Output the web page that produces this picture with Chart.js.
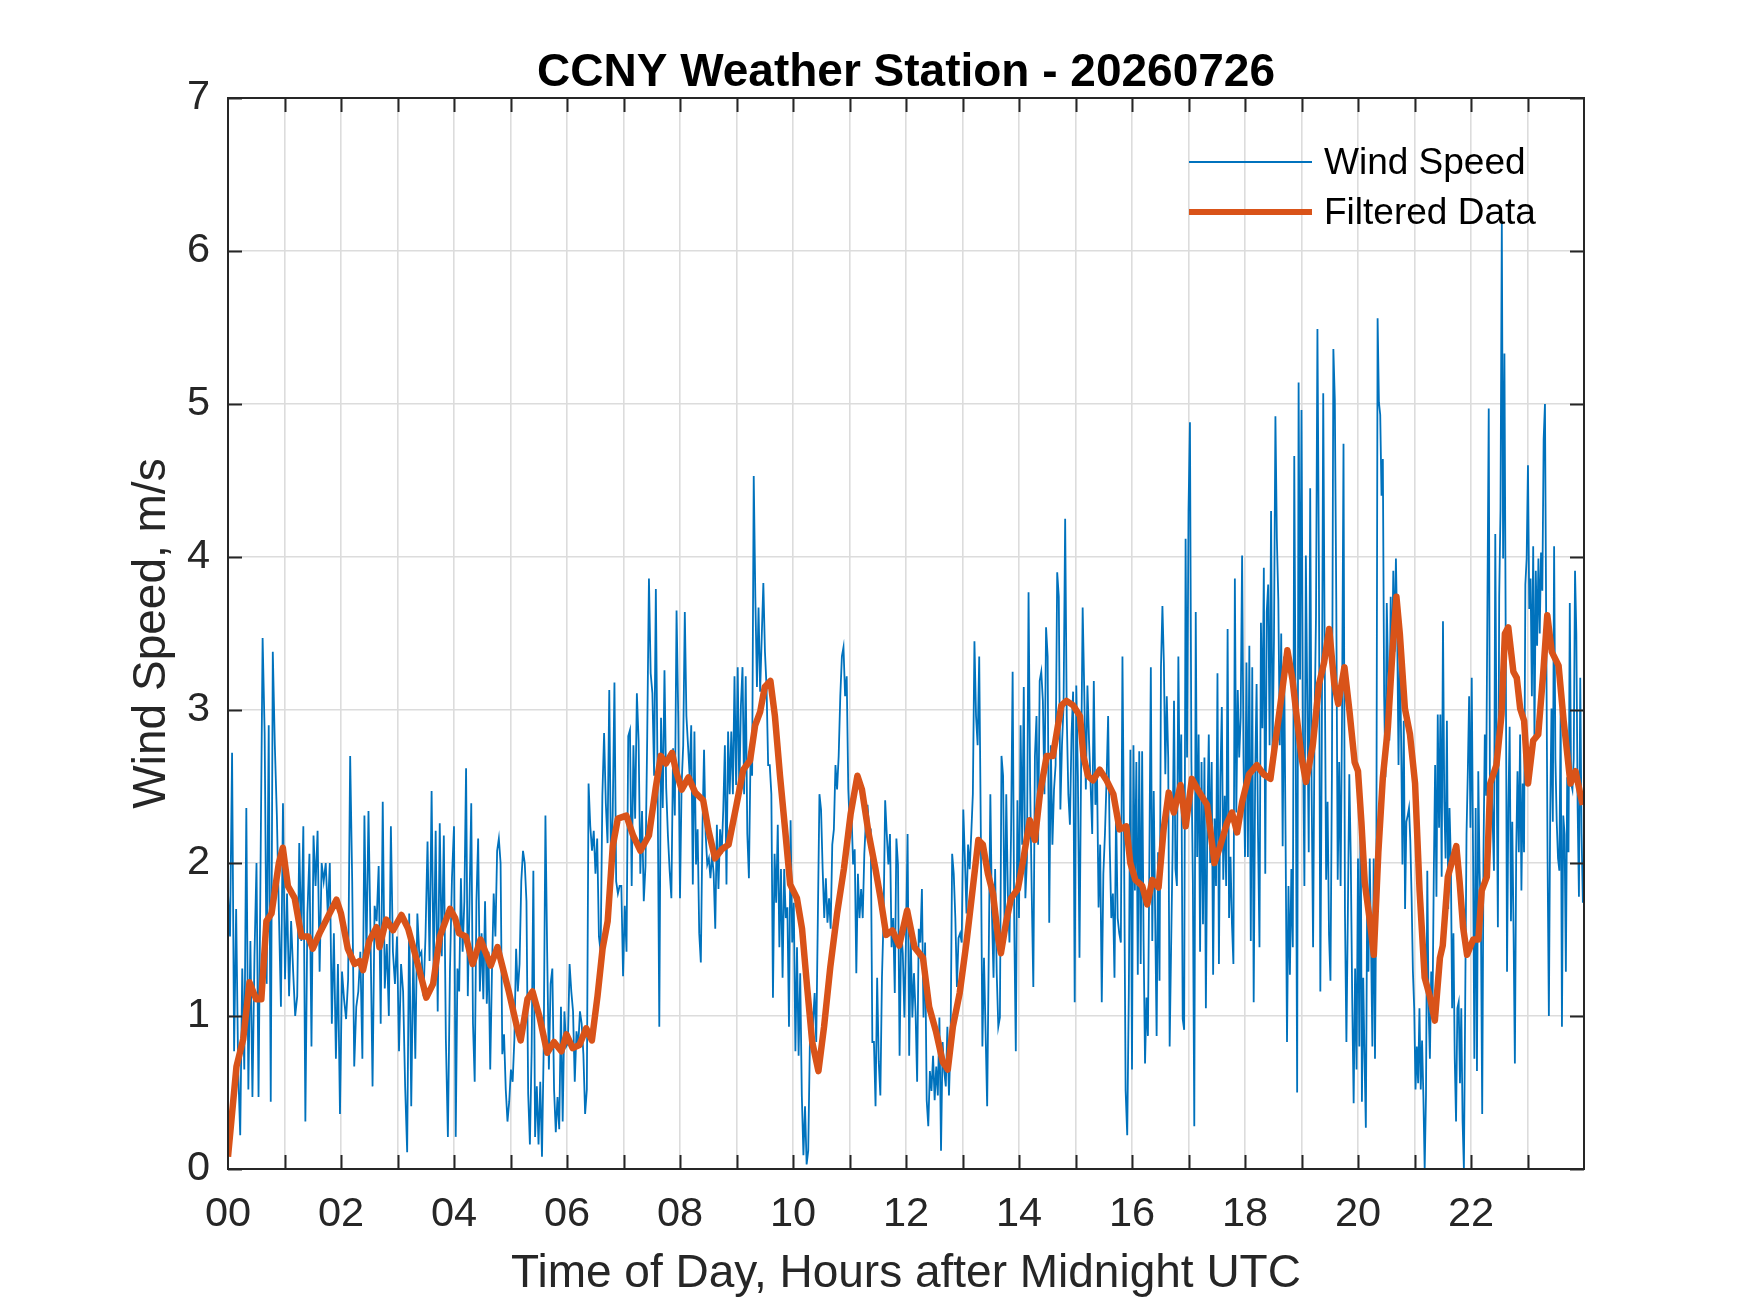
<!DOCTYPE html>
<html>
<head>
<meta charset="utf-8">
<script src="https://cdn.jsdelivr.net/npm/chart.js@4.4.0/dist/chart.umd.min.js"></script>
<style>
  body { margin: 0; background: #fff; }
  canvas { display: block; }
</style>
</head>
<body>
<canvas id="myChart" width="1750" height="1313"></canvas>
<script>
// wind speed readings (m/s) in 4-hour blocks
let wind00to04=[1.8,1.52,2.72,0.77,1.7,0.65,0.22,1.31,0.65,2.36,0.52,1.49,0.47,1.39,2.0,0.47,2.0,3.47,2.85,1.21,2.9,0.44,3.38,2.77,2.31,1.67,1.06,2.39,1.24,1.8,1.13,1.62,1.29,1.0,1.13,2.13,1.49,2.24,0.31,1.67,2.06,0.8,2.18,1.85,2.21,1.29,2.0,1.88,2.0,1.67,2.0,0.95,1.54,0.72,1.34,0.36,1.29,1.11,0.98,1.24,2.7,1.88,0.67,1.06,1.16,1.42,0.72,2.31,1.39,2.34,1.52,0.54,1.72,1.62,1.98,0.95,2.4,1.18,1.47,1.0,2.24,1.42,1.21,1.52,0.77,1.34,1.16,0.54,0.11,1.67,0.41,1.42,0.72,1.67,1.39,1.42,1.13,1.52,2.14,1.36,2.47,1.26,2.21,1.03,2.26,1.39,2.18,0.85,0.21,1.29,1.9];
let wind04to08=[2.24,0.21,1.31,1.16,1.9,1.42,1.75,2.62,1.13,1.75,2.39,0.95,0.57,1.75,2.16,1.16,1.54,1.11,1.75,1.08,1.42,0.65,1.29,1.8,1.52,2.08,2.16,2.0,0.75,0.88,0.52,0.31,0.44,0.65,0.57,0.85,1.44,1.16,1.34,1.88,2.08,2.0,1.75,0.49,0.16,0.77,1.95,0.21,0.54,0.16,0.57,0.08,0.8,2.31,1.42,0.65,1.21,1.31,0.52,0.24,0.47,0.26,1.06,0.31,1.03,0.8,0.82,1.34,1.16,1.03,0.57,0.9,0.8,1.03,0.95,0.75,0.36,0.52,2.52,2.24,2.08,2.21,1.93,2.16,1.52,1.42,2.44,2.85,2.39,2.13,3.13,1.98,2.31,3.18,1.88,1.8,1.85,1.85,1.26,1.72,1.42,2.83,2.87,1.85,2.77,2.29,3.11,2.8,1.93,2.34,1.75,1.98,2.83,3.86,3.24,3.11,2.57,3.79,2.57,0.93,2.95,2.36,3.26,2.49,2.18,1.95,1.77,2.75,2.31,3.65,2.95];
let wind08to12=[1.77,2.51,2.77,3.64,2.96,2.77,2.57,2.9,1.86,2.86,1.99,2.22,1.54,1.35,2.22,2.74,2.19,1.99,2.03,1.9,2.06,1.93,1.57,2.25,1.83,2.22,2.06,2.35,2.77,1.86,2.86,2.45,2.86,2.45,3.22,2.51,3.28,2.45,3.03,3.28,2.45,3.22,2.19,1.9,2.7,2.57,4.53,3.74,3.15,3.67,3.12,3.48,3.83,3.38,3.15,2.64,2.64,2.45,1.12,2.06,1.74,2.25,1.45,1.96,1.25,1.96,1.64,1.71,0.93,2.28,1.48,1.74,0.77,1.45,0.74,1.28,0.48,0.09,0.41,0.03,0.12,0.8,1.03,0.96,1.15,0.83,1.64,2.45,2.35,1.96,1.64,1.9,1.61,1.77,1.57,2.12,2.22,2.64,2.48,2.7,3.09,3.35,3.41,3.09,3.22,2.48,2.22,2.32,1.99,2.09,1.28,1.93,1.64,1.83,1.64,2.06,2.28,2.38,2.22,2.22,0.83,0.83,0.41,1.25,0.7,0.48,1.25,1.64,2.41,2.19,1.99,2.19,1.45,1.64,1.15,2.16,1.99,0.74,1.57,1.41,0.99];
let wind12to16=[1.51,2.19,0.74,1.51,0.99,1.28,1.03,0.57,1.57,1.48,1.83,0.99,1.48,0.45,0.28,0.64,0.51,0.74,0.45,0.67,0.48,0.99,0.12,0.83,0.64,0.54,0.93,0.48,0.83,2.06,1.93,1.64,1.19,1.51,1.54,1.48,2.35,2.03,1.67,2.12,1.96,2.19,2.45,3.45,2.96,2.77,3.35,2.22,0.8,1.38,0.9,0.41,1.41,2.45,1.67,1.25,1.96,1.28,0.93,0.99,2.7,2.57,1.51,2.45,1.8,1.48,2.19,3.25,1.61,0.77,2.41,1.64,2.9,2.12,3.15,1.77,2.03,3.77,2.51,1.8,1.19,2.7,2.96,2.12,3.19,3.25,3.06,2.45,3.54,3.35,1.61,2.77,2.12,2.48,2.64,3.9,3.74,2.35,2.77,3.03,4.25,2.96,2.45,2.25,2.84,3.12,1.09,3.16,2.57,1.38,2.61,3.67,3.12,2.48,3.16,2.8,2.51,2.19,3.19,2.38,2.61,1.71,2.12,1.09,1.93,2.19,2.54,2.96,2.12,1.64,1.8,1.25,2.35,1.64,1.54,1.48,3.35,2.12,0.51,0.22,1.15,2.74];
let wind16to20=[0.65,2.77,1.82,2.66,1.27,2.73,1.34,2.73,1.49,0.69,1.12,0.87,2.04,3.28,1.49,2.47,1.64,0.87,2.07,1.23,3.28,3.68,3.31,2.58,3.09,2.69,0.8,1.45,2.07,3.06,1.96,1.85,3.35,2.4,2.84,0.98,0.91,4.12,2.69,4.3,4.88,2.66,1.89,0.28,3.64,2.04,2.84,1.42,2.66,1.6,2.69,1.05,2.26,2.84,2.0,2.66,1.27,2.29,1.85,3.24,1.34,2.55,3.02,1.89,2.44,1.85,3.53,1.64,2.04,1.6,1.34,3.86,2.33,3.13,2.69,2.95,4.01,2.66,2.04,3.31,2.04,3.42,1.49,3.28,1.09,2.55,3.17,2.18,1.45,3.57,2.88,3.93,1.93,3.64,3.82,2.77,4.3,2.69,3.46,4.92,4.12,3.72,2.77,3.5,2.11,3.35,2.18,0.83,1.85,1.27,1.96,1.45,4.66,2.84,0.5,5.14,3.2,4.96,2.88,1.85,4.01,3.06,2.07,4.45,2.47,1.45,2.91,3.61,5.49,3.97,1.16,2.77,5.07,3.39,1.89,2.4,1.53,1.23,2.58,5.36,5.03,3.72,1.89,2.66,1.85,2.99,4.74,1.67,0.83,1.67,2.58,2.04,1.12,0.43,1.31,0.65];
let wind20to24=[2.03,0.8,2.44,0.44,1.25,0.72,0.27,1.74,1.29,2.03,1.46,0.8,2.03,0.72,1.87,5.56,5.01,4.93,4.4,4.64,3.09,2.56,3.7,3.25,2.8,3.74,3.25,3.91,3.38,3.99,3.5,2.64,3.42,2.8,1.99,2.93,1.7,2.27,2.31,2.36,2.15,1.78,1.29,1.05,0.52,0.8,0.56,1.05,0.52,0.84,0.48,0.0,0.48,1.95,1.05,0.72,1.29,1.05,1.95,2.64,1.78,2.97,2.23,2.97,1.91,3.58,2.4,2.03,2.93,1.7,2.36,2.03,1.05,1.54,0.72,0.31,1.05,1.09,0.56,1.05,0.31,0.0,1.09,2.19,2.6,3.09,2.23,3.21,2.07,0.72,2.36,0.64,2.6,1.95,1.66,0.36,2.07,2.84,2.44,3.7,4.97,2.27,2.56,2.27,1.95,4.15,2.68,1.58,3.74,4.31,6.19,3.99,5.33,3.46,1.29,2.36,2.89,1.62,2.27,1.54,0.69,2.07,2.6,2.07,2.84,1.82,2.52,2.07,3.82,3.99,4.6,3.66,3.86,3.09,4.07,2.8,3.91,3.42,3.99,3.5,4.03,3.78,4.77,5.0,3.5,2.03,1.0,2.31,3.01,2.27,4.07,2.68,2.27,2.03,1.95,3.01,0.93,2.31,2.19,1.29,2.56,2.07,3.7,2.52,2.48,2.68,3.91,3.5,2.36,1.78,3.21,2.19,1.74];
let windBlocks=[wind00to04,wind04to08,wind08to12,wind12to16,wind16to20,wind20to24];
let blockHours=4;
let lastHour=23.98;

// filtered curve: hours and values
let filtHours=[0,0.15,0.27,0.38,0.5,0.59,0.68,0.77,0.9,0.97,1.06,1.18,1.3,1.42,1.5,1.62,1.77,1.92,2.0,2.12,2.24,2.33,2.39,2.5,2.63,2.68,2.8,2.92,3.07,3.19,3.3,3.45,3.51,3.63,3.75,3.93,4.02,4.09,4.21,4.33,4.47,4.65,4.77,4.97,5.1,5.18,5.3,5.39,5.51,5.65,5.77,5.9,5.99,6.1,6.22,6.34,6.44,6.54,6.63,6.72,6.81,6.9,7.05,7.17,7.3,7.45,7.57,7.66,7.75,7.86,7.93,8.03,8.15,8.27,8.41,8.5,8.62,8.74,8.86,9.0,9.12,9.24,9.33,9.42,9.5,9.6,9.68,9.77,9.86,9.95,10.07,10.16,10.25,10.34,10.45,10.55,10.66,10.78,10.9,11.02,11.14,11.22,11.34,11.46,11.55,11.65,11.76,11.88,12.02,12.15,12.3,12.41,12.53,12.65,12.74,12.83,12.95,13.07,13.18,13.28,13.36,13.45,13.54,13.63,13.68,13.77,13.86,13.98,14.07,14.19,14.28,14.37,14.49,14.6,14.69,14.75,14.84,14.96,15.08,15.14,15.22,15.31,15.43,15.55,15.67,15.78,15.9,15.97,16.06,16.18,16.27,16.36,16.47,16.56,16.65,16.74,16.86,16.95,17.06,17.18,17.33,17.46,17.56,17.68,17.77,17.86,17.95,18.07,18.21,18.33,18.45,18.57,18.66,18.75,18.84,18.93,19.0,19.08,19.2,19.31,19.4,19.49,19.58,19.65,19.76,19.85,19.94,20.0,20.06,20.12,20.21,20.28,20.36,20.44,20.53,20.61,20.68,20.74,20.83,20.92,21.01,21.09,21.18,21.27,21.36,21.45,21.5,21.59,21.68,21.74,21.8,21.86,21.93,22.04,22.13,22.19,22.28,22.34,22.45,22.54,22.6,22.66,22.75,22.81,22.87,22.94,23.01,23.1,23.19,23.28,23.35,23.43,23.55,23.64,23.76,23.85,23.94,23.98];
let filtValues=[0.08,0.67,0.85,1.22,1.11,1.11,1.62,1.67,2.0,2.1,1.85,1.77,1.52,1.52,1.44,1.54,1.65,1.76,1.67,1.44,1.34,1.36,1.3,1.49,1.58,1.45,1.63,1.56,1.66,1.57,1.42,1.21,1.12,1.21,1.52,1.7,1.64,1.54,1.52,1.34,1.5,1.33,1.45,1.16,0.95,0.84,1.11,1.16,1.0,0.76,0.83,0.77,0.88,0.79,0.81,0.92,0.84,1.13,1.44,1.62,2.11,2.29,2.31,2.18,2.08,2.18,2.49,2.7,2.65,2.72,2.6,2.48,2.56,2.46,2.41,2.22,2.03,2.09,2.12,2.38,2.61,2.67,2.9,2.99,3.15,3.19,2.96,2.57,2.22,1.86,1.77,1.57,1.19,0.83,0.64,0.93,1.32,1.67,1.96,2.32,2.57,2.48,2.19,1.96,1.77,1.53,1.56,1.46,1.69,1.45,1.38,1.06,0.9,0.7,0.65,0.93,1.15,1.48,1.83,2.15,2.12,1.93,1.8,1.51,1.41,1.61,1.77,1.83,2.01,2.28,2.15,2.45,2.7,2.7,2.9,3.03,3.06,3.03,2.96,2.7,2.57,2.54,2.61,2.54,2.45,2.22,2.24,2.0,1.89,1.85,1.73,1.89,1.84,2.22,2.46,2.33,2.51,2.24,2.55,2.47,2.38,2.0,2.11,2.26,2.33,2.2,2.4,2.58,2.64,2.58,2.55,2.88,3.13,3.39,3.2,2.91,2.69,2.53,2.77,3.17,3.31,3.53,3.17,3.04,3.28,2.99,2.66,2.6,2.27,1.87,1.62,1.4,2.07,2.56,2.89,3.38,3.74,3.5,3.01,2.84,2.52,1.82,1.25,1.13,0.97,1.38,1.46,1.91,2.03,2.11,1.87,1.58,1.4,1.5,1.5,1.82,1.91,2.52,2.64,2.97,3.5,3.54,3.25,3.21,3.01,2.93,2.52,2.8,2.84,3.25,3.62,3.38,3.29,2.93,2.52,2.6,2.44,2.38];

let xTickHours=[0,2,4,6,8,10,12,14,16,18,20,22];
let yTicks=[0,1,2,3,4,5,6,7];

let windPoints=[];
windBlocks.forEach((block,b)=>{
    let span=(b==windBlocks.length-1)?(lastHour-b*blockHours):blockHours;
    block.forEach((v,i)=>{
        windPoints.push({x: b*blockHours+span*i/(block.length-(b==windBlocks.length-1?1:0)), y: v});
    });
});
let filtPoints=filtHours.map((h,i)=>({x: h, y: filtValues[i]}));

const blue='#0072BD';
const orange='#D95319';
const axisColor='#262626';
const fontFamily='"Liberation Sans", Arial, Helvetica, sans-serif';

// MATLAB style box with inward ticks on all four sides
const boxPlugin={
    id: 'boxPlugin',
    afterDatasetsDraw(chart){
        const {ctx, chartArea: a, scales: {x, y}}=chart;
        const len=14;
        ctx.save();
        ctx.strokeStyle=axisColor;
        ctx.lineWidth=2;
        ctx.beginPath();
        for(let h=1; h<24; h++){
            let px=Math.round(x.getPixelForValue(h))+0.5;
            ctx.moveTo(px,a.bottom); ctx.lineTo(px,a.bottom-len);
            ctx.moveTo(px,a.top); ctx.lineTo(px,a.top+len);
        }
        yTicks.forEach((t)=>{
            let py=Math.round(y.getPixelForValue(t))+0.5;
            ctx.moveTo(a.left,py); ctx.lineTo(a.left+len,py);
            ctx.moveTo(a.right,py); ctx.lineTo(a.right-len,py);
        });
        ctx.stroke();
        ctx.strokeRect(a.left,a.top,a.right-a.left,a.bottom-a.top);
        ctx.restore();
    }
};

// legend without box, top right inside the axes
const legendPlugin={
    id: 'legendPlugin',
    afterDraw(chart){
        const ctx=chart.ctx;
        const rows=[
            {label: 'Wind Speed', color: blue, width: 2, y: 162},
            {label: 'Filtered Data', color: orange, width: 6, y: 212}
        ];
        ctx.save();
        ctx.font='37px '+fontFamily;
        ctx.textBaseline='middle';
        ctx.fillStyle='#000';
        rows.forEach((r)=>{
            ctx.strokeStyle=r.color;
            ctx.lineWidth=r.width;
            ctx.beginPath();
            ctx.moveTo(1189,r.y); ctx.lineTo(1312,r.y);
            ctx.stroke();
            ctx.fillText(r.label,1324,r.y+2);
        });
        ctx.restore();
    }
};

const ctx=document.getElementById('myChart').getContext('2d');
const myChart=new Chart(ctx,{
    type: 'line',
    data: {
        datasets: [{
            label: 'Wind Speed',
            data: windPoints,
            borderColor: blue,
            borderWidth: 1.8,
            pointRadius: 0,
            tension: 0,
            fill: false,
            order: 1
        },{
            label: 'Filtered Data',
            data: filtPoints,
            borderColor: orange,
            borderWidth: 6.5,
            pointRadius: 0,
            tension: 0,
            fill: false,
            borderJoinStyle: 'round',
            order: 0
        }]
    },
    options: {
        responsive: false,
        animation: false,
        devicePixelRatio: 1,
        layout: {padding: {left: 0, right: 166, top: 0, bottom: 0}},
        plugins: {
            legend: {display: false},
            tooltip: {enabled: false},
            title: {
                display: true,
                text: 'CCNY Weather Station - 20260726',
                color: '#000',
                fullSize: false,
                font: {family: fontFamily, size: 46, weight: 'bold', lineHeight: 1},
                padding: {top: 50, bottom: 2}
            }
        },
        scales: {
            x: {
                type: 'linear',
                min: 0,
                max: 24,
                afterFit: (scale)=>{ scale.height=144; },
                afterBuildTicks: (scale)=>{
                    let t=[];
                    for(let h=0; h<=24; h++) t.push({value: h});
                    scale.ticks=t;
                },
                ticks: {
                    autoSkip: false,
                    maxRotation: 0,
                    padding: 21,
                    color: axisColor,
                    font: {family: fontFamily, size: 41.5, lineHeight: 1.2},
                    callback: (v)=> xTickHours.includes(v) ? String(v).padStart(2,'0') : ''
                },
                grid: {color: '#dcdcdc', lineWidth: 1.6, drawTicks: false},
                border: {display: false},
                title: {
                    display: true,
                    text: 'Time of Day, Hours after Midnight UTC',
                    color: axisColor,
                    font: {family: fontFamily, size: 46, lineHeight: 1.2},
                    padding: {top: 0, bottom: 11}
                }
            },
            y: {
                type: 'linear',
                min: 0,
                max: 7,
                afterFit: (scale)=>{ scale.width=228; },
                ticks: {
                    stepSize: 1,
                    padding: 18,
                    color: axisColor,
                    font: {family: fontFamily, size: 41.5, lineHeight: 1.2}
                },
                grid: {color: '#dcdcdc', lineWidth: 1.6, drawTicks: false},
                border: {display: false},
                title: {
                    display: true,
                    text: 'Wind Speed, m/s',
                    color: axisColor,
                    font: {family: fontFamily, size: 46, lineHeight: 1.2},
                    padding: {top: 125, bottom: 0}
                }
            }
        }
    },
    plugins: [boxPlugin, legendPlugin]
});
</script>
</body>
</html>
